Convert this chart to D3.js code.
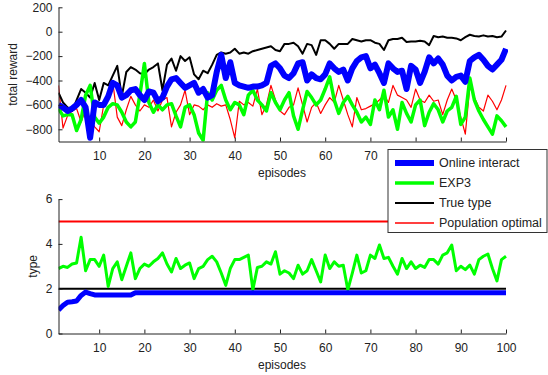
<!DOCTYPE html>
<html>
<head>
<meta charset="utf-8">
<script src="https://cdn.jsdelivr.net/npm/d3@7"></script>
<style>
  html, body { margin: 0; padding: 0; background: #fff; }
  svg { display: block; font-family: "Liberation Sans", Arial, sans-serif; }
  .axis text { font-size: 12px; fill: #222; }
  .axis path, .axis line { stroke: #222; }
</style>
</head>
<body>
<div id="chart"></div>
<script>
// episodes 1..100
const episodes = d3.range(1, 101);

// top panel: total reward per episode
const rewardOnline = [
  -600, -620, -650, -630, -600, -560, -620, -870, -580, -600,
  -600, -530, -420, -440, -540, -520, -480, -470, -520, -560,
  -490, -500, -570, -540, -450, -390, -380, -420, -460, -440,
  -420, -500, -470, -540, -520, -330, -190, -380, -250, -420,
  -440, -450, -460, -450, -450, -440, -420, -280, -260, -300,
  -360, -380, -340, -260, -250, -400, -350, -380, -390, -350,
  -260, -300, -330, -310, -400, -300, -240, -210, -200, -300,
  -270, -340, -420, -260, -300, -330, -320, -470, -280, -310,
  -420, -330, -210, -260, -220, -270, -360, -400, -370, -360,
  -410, -240, -210, -190, -230, -280, -310, -270, -230, -140
];
const rewardExp3 = [
  -630, -690, -680, -680, -810, -720, -520, -440, -700, -750,
  -700, -620, -590, -600, -660, -740, -780, -740, -520, -260,
  -580, -660, -600, -640, -600, -590, -690, -780, -620, -600,
  -680, -830, -890, -500, -560, -480, -440, -560, -640, -580,
  -600, -680, -520, -480, -560, -600, -650, -500, -580, -640,
  -560, -500, -690, -800, -640, -490, -540, -600, -560, -470,
  -370, -560, -670, -580, -530, -600, -660, -740, -700, -760,
  -560, -640, -480, -700, -640, -800, -580, -670, -740, -600,
  -560, -770, -660, -590, -640, -740, -650, -620, -530, -760,
  -700, -380, -560, -650, -720, -780, -840, -690, -730, -780
];
const rewardTrue = [
  -500, -580, -620, -650, -560, -470, -500, -540, -420, -560,
  -420, -440, -360, -280, -530, -330, -290, -310, -340, -350,
  -310, -290, -260, -480, -270, -220, -320, -200, -240, -210,
  -350, -390, -320, -340, -270, -190, -170, -180, -170, -140,
  -180, -170, -180, -160, -150, -140, -130, -120, -150, -160,
  -100, -100, -90, -120, -180, -100, -110, -190, -70, -70,
  -100, -140, -100, -100, -100, -60, -70, -80, -70, -70,
  -90, -100, -150, -70, -60, -60, -50, -85, -80, -80,
  -75, -80, -110, -35, -45, -40, -50, -50, -55, -70,
  -45, -25, -35, -40, -30, -40, -35, -45, -40, 10
];
const rewardPop = [
  -440, -790, -690, -650, -630, -740, -640, -720, -780, -820,
  -600, -500, -410, -700, -770, -640, -530, -600, -650, -600,
  -620, -560, -650, -560, -540, -780, -660, -600, -480, -680,
  -600, -610, -640, -600, -620, -590, -610, -600, -720, -870,
  -570, -600, -580, -610, -470, -680, -600, -440, -560, -650,
  -680, -620, -600, -460, -600, -740, -620, -580, -670, -600,
  -540, -580, -440, -560, -680, -780, -540, -640, -630, -610,
  -590, -560, -520, -580, -440, -520, -540, -560, -620, -470,
  -560, -580, -520, -570, -560, -680, -560, -470, -560, -700,
  -840, -450, -540, -620, -650, -520, -570, -640, -560, -440
];

// bottom panel: type per episode
const typeOnline = [
  1.05, 1.25, 1.4, 1.42, 1.45, 1.7, 1.85, 1.78, 1.72, 1.72,
  1.72, 1.72, 1.72, 1.72, 1.72, 1.72, 1.72, 1.82, 1.82, 1.82,
  1.82, 1.82, 1.82, 1.82, 1.82, 1.82, 1.82, 1.82, 1.82, 1.82,
  1.82, 1.82, 1.82, 1.82, 1.82, 1.82, 1.82, 1.82, 1.82, 1.82,
  1.82, 1.82, 1.82, 1.82, 1.82, 1.82, 1.82, 1.82, 1.82, 1.82,
  1.82, 1.82, 1.82, 1.82, 1.82, 1.82, 1.82, 1.82, 1.82, 1.82,
  1.82, 1.82, 1.82, 1.82, 1.82, 1.82, 1.82, 1.82, 1.82, 1.82,
  1.82, 1.82, 1.82, 1.82, 1.82, 1.82, 1.82, 1.82, 1.82, 1.82,
  1.82, 1.82, 1.82, 1.82, 1.82, 1.82, 1.82, 1.82, 1.82, 1.82,
  1.82, 1.82, 1.82, 1.82, 1.82, 1.82, 1.82, 1.82, 1.82, 1.82
];
const typeExp3 = [
  2.9, 3.0, 2.95, 3.1, 3.15, 4.3, 2.8, 3.3, 3.3, 3.0,
  3.5, 2.1, 2.9, 3.2, 2.4, 3.0, 3.6, 2.45, 2.9, 3.1,
  3.0, 3.2, 3.35, 3.6, 3.1, 2.75, 3.35, 2.9, 3.05, 3.15,
  2.45, 2.9, 3.0, 3.3, 3.45, 3.2, 2.7, 2.15, 2.9, 3.3,
  3.3, 3.4, 3.5, 1.95, 2.95, 3.0, 3.2, 3.1, 3.65, 2.65,
  2.8, 2.7, 2.45, 3.05, 2.65, 2.8, 3.3, 2.8, 2.3, 3.5,
  2.9, 3.2, 3.0, 3.05, 1.95, 2.7, 3.5, 2.7, 2.8, 3.5,
  3.35, 3.95, 3.35, 3.4, 3.0, 2.65, 3.35, 2.9, 3.2, 2.9,
  3.05, 2.95, 3.3, 3.3, 3.1, 3.5, 3.6, 3.95, 2.8, 3.0,
  2.85, 3.05, 2.65, 3.3, 3.45, 3.55, 2.9, 2.35, 3.3, 3.45
];
const typeTrue = 2;
const typePop = 5;

const legendLabels = ["Online interact", "EXP3", "True type", "Population optimal"];
const rewardTicks = [-800, -600, -400, -200, 0, 200];
const typeTicks = [0, 2, 4, 6];
const episodeTicks = [10, 20, 30, 40, 50, 60, 70, 80, 90, 100];
// top panel labels past 70 sit under the legend
const topEpisodeLabels = [10, 20, 30, 40, 50, 60, 70];

const styles = [
  { color: "#0000ff", width: 6 },
  { color: "#00ff00", width: 3.5 },
  { color: "#000000", width: 2 },
  { color: "#ff0000", width: 1.2 }
];

const width = 548, height = 375;
const svg = d3.select("#chart").append("svg")
  .attr("width", width)
  .attr("height", height);

const x = d3.scaleLinear().domain([1, 100]).range([58.5, 506]);

function drawPanel(opts) {
  const y = d3.scaleLinear().domain(opts.yDomain).range([opts.bottom, opts.top]);
  const clipId = "clip-" + opts.name;
  svg.append("clipPath").attr("id", clipId)
    .append("rect")
    .attr("x", x.range()[0]).attr("y", opts.top - 4)
    .attr("width", x.range()[1] - x.range()[0] + 2)
    .attr("height", opts.bottom - opts.top + 4);

  const g = svg.append("g").attr("clip-path", `url(#${clipId})`);
  const line = d3.line().x((d, i) => x(episodes[i])).y(d => y(d));

  // draw back to front: red, black, green, blue
  for (let k = opts.series.length - 1; k >= 0; k--) {
    g.append("path")
      .datum(opts.series[k])
      .attr("fill", "none")
      .attr("stroke", styles[k].color)
      .attr("stroke-width", opts.widths ? opts.widths[k] : styles[k].width)
      .attr("stroke-linejoin", "round")
      .attr("d", line);
  }

  svg.append("g")
    .attr("class", "axis")
    .attr("transform", `translate(0,${opts.bottom})`)
    .call(d3.axisBottom(x).tickValues(episodeTicks).tickSizeInner(-4).tickSizeOuter(0).tickPadding(10)
      .tickFormat(d => opts.xLabels.includes(d) ? d3.format("d")(d) : ""));

  svg.append("g")
    .attr("class", "axis")
    .attr("transform", `translate(${x.range()[0]},0)`)
    .call(d3.axisLeft(y).tickValues(opts.yTicks).tickSizeInner(-4).tickSizeOuter(0).tickPadding(6).tickFormat(d3.format("d")));

  svg.append("text")
    .attr("x", 282).attr("y", opts.bottom + 35)
    .attr("text-anchor", "middle")
    .attr("font-size", 12).attr("fill", "#222")
    .text("episodes");

  svg.append("text")
    .attr("transform", `translate(${opts.yLabelX},${(opts.top + opts.bottom) / 2}) rotate(-90)`)
    .attr("text-anchor", "middle")
    .attr("font-size", 12).attr("fill", "#222")
    .text(opts.yLabel);
}

drawPanel({
  name: "reward",
  top: 7.3, bottom: 141.5,
  yDomain: [-900, 200],
  yTicks: rewardTicks,
  xLabels: topEpisodeLabels,
  series: [rewardOnline, rewardExp3, rewardTrue, rewardPop],
  yLabel: "total reward",
  yLabelX: 17
});

drawPanel({
  name: "type",
  top: 199.1, bottom: 333.5,
  yDomain: [0, 6],
  yTicks: typeTicks,
  xLabels: episodeTicks,
  series: [typeOnline, typeExp3, episodes.map(() => typeTrue), episodes.map(() => typePop)],
  widths: [5, 3, 2, 2],
  yLabel: "type",
  yLabelX: 37
});

// legend
const legend = svg.append("g").attr("transform", "translate(388,149.5)");
legend.append("rect")
  .attr("width", 159).attr("height", 83)
  .attr("fill", "#fff").attr("stroke", "#333").attr("stroke-width", 1);
legendLabels.forEach((label, i) => {
  const yy = 13.5 + i * 20;
  legend.append("line")
    .attr("x1", 7).attr("x2", 46).attr("y1", yy).attr("y2", yy)
    .attr("stroke", styles[i].color).attr("stroke-width", i === 3 ? 1.6 : styles[i].width);
  legend.append("text")
    .attr("x", 51).attr("y", yy + 4)
    .attr("font-size", 12.5).attr("fill", "#222")
    .text(label);
});
</script>
</body>
</html>
